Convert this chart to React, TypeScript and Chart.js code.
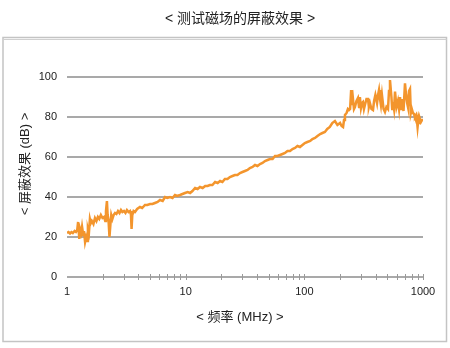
import React, { useEffect, useRef } from "react";
import { Chart, registerables } from "chart.js";

Chart.register(...registerables);

const TITLE = "< 测试磁场的屏蔽效果 >";
const X_TITLE = "< 频率 (MHz) >";
const Y_TITLE = "< 屏蔽效果 (dB) >";

const Y_TICKS = [0, 20, 40, 60, 80, 100];
const X_LABELED = [1, 10, 100, 1000];

const FREQ_MHZ = [
  1.0, 1.03, 1.06, 1.09, 1.12, 1.16, 1.19, 1.22, 1.24, 1.27, 1.29, 1.32, 1.34, 1.37, 1.39, 1.42,
  1.45, 1.48, 1.5, 1.53, 1.56, 1.59, 1.62, 1.67, 1.72, 1.77, 1.82, 1.87, 1.93, 1.99, 2.05, 2.1,
  2.13, 2.17, 2.2, 2.24, 2.28, 2.32, 2.36, 2.41, 2.47, 2.54, 2.61, 2.69, 2.77, 2.85, 2.93, 3.02,
  3.11, 3.2, 3.3, 3.4, 3.46, 3.5, 3.55, 3.64, 3.74, 3.9, 4.12, 4.3, 4.54, 4.75, 5.01, 5.25,
  5.51, 5.8, 6.08, 6.4, 6.7, 7.0, 7.38, 7.75, 8.13, 8.5, 8.96, 9.4, 9.87, 10.4, 10.9, 11.4,
  12.0, 12.6, 13.2, 13.9, 14.6, 15.3, 16.0, 16.8, 17.7, 18.6, 19.5, 20.4, 21.4, 22.5, 23.6, 24.8,
  26.0, 27.3, 28.7, 30.1, 31.6, 33.2, 34.8, 36.6, 38.4, 40.3, 42.3, 44.4, 46.6, 49.0, 51.4, 54.0,
  56.6, 59.4, 62.4, 65.5, 68.7, 72.1, 75.7, 79.5, 83.4, 87.6, 91.9, 96.4, 101, 106, 112, 117,
  123, 129, 136, 142, 149, 156, 164, 172, 181, 190, 200, 206, 212, 216, 220, 227,
  233, 238, 243, 248, 252, 257, 262, 267, 275, 283, 289, 294, 300, 306, 312, 318,
  324, 334, 344, 350, 357, 368, 379, 387, 397, 410, 418, 426, 434, 442, 451, 465,
  478, 492, 507, 517, 527, 542, 550, 558, 570, 581, 598, 615, 628, 640, 653, 665,
  685, 705, 720, 735, 747, 762, 777, 790, 805, 823, 840, 856, 875, 890, 900, 915,
  930, 943, 960, 980, 1000,
];

const SHIELDING_DB = [
  22, 22.5, 21.8, 22.5, 22, 23, 22.5, 23.5, 27.5, 19, 24, 22, 25, 21, 23, 17.5,
  20, 18, 24, 22, 29, 27, 28, 26.5, 29.5, 28, 30, 29, 31, 29.5, 30, 28,
  33, 38, 31, 28, 20, 26, 31, 29, 31, 32, 31.5, 33, 32, 33.5, 32.5, 33,
  32, 33.5, 32.5, 33, 31, 24, 31, 33, 32.5, 34, 35, 34.5, 36, 36, 36.5, 36.5,
  37, 37.5, 38.5, 38, 40, 39.5, 40, 39.5, 41, 40.5, 41, 41.5, 42, 42.5, 42, 43,
  44.5, 44, 45, 44.5, 45.5, 45.5, 46, 46, 47.5, 47, 48, 47.5, 49, 49, 50, 50.5,
  51, 51, 52, 52.5, 53, 53.5, 54.5, 55, 56, 55.5, 56.5, 57, 58, 58.5, 59, 59,
  60.5, 60.5, 61, 61.5, 62, 63, 63, 64, 64.5, 65.5, 65, 66, 67, 67.5, 68, 69,
  69.5, 70.5, 71.5, 72, 72.5, 74, 75, 77, 78, 76, 77, 75.5, 75, 78.5, 81, 82,
  84, 83.5, 84, 93.5, 86, 89, 84, 85, 88, 89.5, 85, 90, 84.5, 87, 87.5, 84,
  86, 89, 89, 85, 87, 84, 83.5, 88, 91, 87, 91, 93.5, 89, 86, 91, 84,
  82.5, 85, 84, 93, 98.5, 90, 84, 87.5, 84, 92.7, 85, 88, 84, 90, 84, 89,
  83, 96.8, 91, 87, 85, 93, 94, 82, 84, 82, 81.5, 80, 81, 78, 75, 79,
  77, 79, 77.5, 78.5, 78.5,
];

const MINOR_TICKS: number[] = [];
for (const d of [1, 10, 100]) {
  for (let m = 1; m <= 10; m++) MINOR_TICKS.push(d * m);
}

const LATIN_CJK = "'Liberation Sans', Arial, 'Noto Sans CJK SC', sans-serif";

const decorPlugin = {
  id: "decor",
  beforeDraw(chart: any) {
    const ctx = chart.ctx;
    ctx.save();
    ctx.strokeStyle = "#c4c4c4";
    ctx.lineWidth = 1.5;
    ctx.strokeRect(3, 37.5, 443.5, 304);
    ctx.strokeStyle = "#d0d0d0";
    ctx.lineWidth = 1;
    ctx.beginPath();
    ctx.moveTo(3, 39.5);
    ctx.lineTo(446.5, 39.5);
    ctx.stroke();
    ctx.restore();
  },
  afterDatasetsDraw(chart: any) {
    const ctx = chart.ctx;
    const xs = chart.scales.x;
    const area = chart.chartArea;
    ctx.save();
    ctx.strokeStyle = "#9a9a9a";
    ctx.lineWidth = 1;
    for (const v of MINOR_TICKS) {
      if (v === 1) continue;
      const px = Math.round(xs.getPixelForValue(v)) + 0.5;
      ctx.beginPath();
      ctx.moveTo(px, area.bottom - 3);
      ctx.lineTo(px, area.bottom + 3);
      ctx.stroke();
    }
    ctx.fillStyle = "#222";
    ctx.textAlign = "center";
    ctx.textBaseline = "middle";
    ctx.font = `14px ${LATIN_CJK}`;
    ctx.fillText(TITLE, 240, 19);
    ctx.font = `13px ${LATIN_CJK}`;
    ctx.fillText(X_TITLE, 240, 317);
    ctx.translate(25, 164);
    ctx.rotate(-Math.PI / 2);
    ctx.fillText(Y_TITLE, 0, 0);
    ctx.restore();
  },
};

export default function App() {
  const ref = useRef<HTMLCanvasElement | null>(null);

  useEffect(() => {
    if (!ref.current) return;
    const data = FREQ_MHZ.map((f, i) => ({ x: f, y: SHIELDING_DB[i] }));
    const chart = new Chart(ref.current, {
      type: "line",
      data: {
        datasets: [
          {
            data,
            borderColor: "#f3952d",
            borderWidth: 2.5,
            pointRadius: 0,
            tension: 0,
            fill: false,
          },
        ],
      },
      options: {
        responsive: false,
        animation: false,
        devicePixelRatio: 1,
        layout: { padding: { left: 0, top: 77, right: 27, bottom: 0 } },
        plugins: {
          legend: { display: false },
          title: { display: false },
          tooltip: { enabled: false },
        },
        scales: {
          x: {
            type: "logarithmic",
            min: 1,
            max: 1000,
            afterFit: (s: any) => {
              s.height = 71;
            },
            afterBuildTicks: (s: any) => {
              s.ticks = X_LABELED.map((v) => ({ value: v }));
            },
            grid: { display: false, drawTicks: false },
            border: { display: false },
            ticks: {
              autoSkip: false,
              maxRotation: 0,
              padding: 8,
              color: "#222",
              font: { family: LATIN_CJK, size: 11 },
              callback: (v: any) => String(v),
            },
          },
          y: {
            type: "linear",
            min: 0,
            max: 100,
            afterFit: (s: any) => {
              s.width = 67;
            },
            afterBuildTicks: (s: any) => {
              s.ticks = Y_TICKS.map((v) => ({ value: v }));
            },
            grid: { color: "#a9a9a9", lineWidth: 2, drawTicks: false },
            border: { display: false },
            ticks: {
              padding: 10,
              color: "#222",
              font: { family: LATIN_CJK, size: 11 },
              callback: (v: any) => String(v),
            },
          },
        },
      },
      plugins: [decorPlugin],
    });
    return () => chart.destroy();
  }, []);

  return (
    <div style={{ position: "fixed", left: 0, top: 0, width: 450, height: 348, background: "#fff" }}>
      <canvas ref={ref} width={450} height={348} style={{ width: 450, height: 348, display: "block" }} />
    </div>
  );
}
